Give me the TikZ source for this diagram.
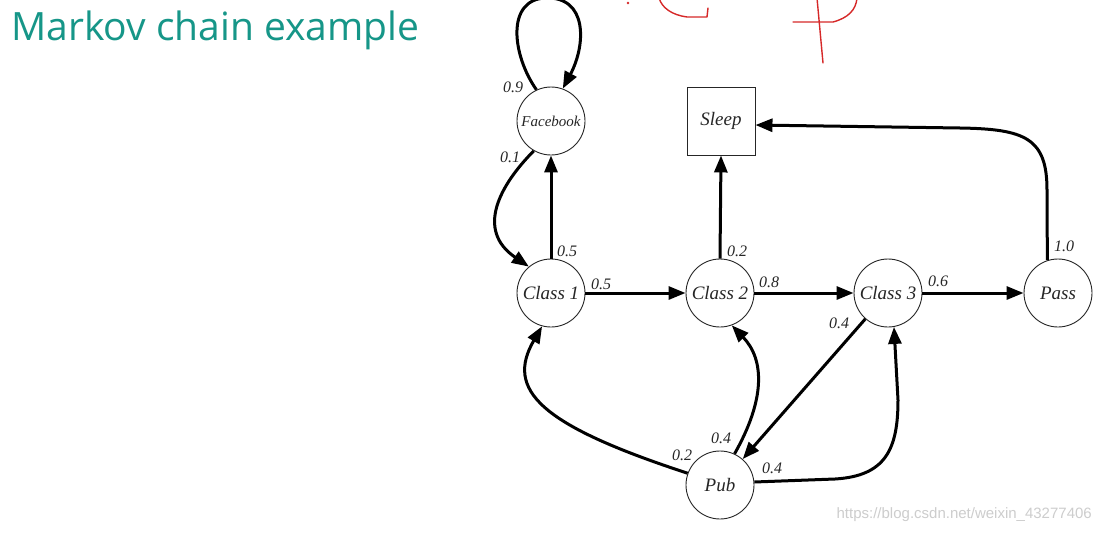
\documentclass[tikz,border=0pt]{standalone}
\usepackage{fontspec}
\setmainfont{Liberation Serif}
\newfontfamily\titlefont{Open Sans}
\newfontfamily\wmfont{Liberation Sans}
\usetikzlibrary{arrows.meta}
\definecolor{teal1}{RGB}{22,150,136}
\definecolor{scrib}{RGB}{214,40,40}
\definecolor{wmgray}{RGB}{205,205,205}
\begin{document}
\begin{tikzpicture}[x=1pt,y=-1pt,
 state/.style={circle,draw=black!85,line width=0.9pt,minimum size=68pt,inner sep=0pt,font=\fontsize{19}{21}\selectfont\itshape,text=black!85},
 sq/.style={rectangle,draw=black!85,line width=0.9pt,minimum size=68pt,inner sep=0pt,font=\fontsize{19}{21}\selectfont\itshape,text=black!85},
 edge/.style={line width=3pt,-{Triangle[length=17pt,width=13pt]}},
 prob/.style={font=\fontsize{16}{18}\selectfont\itshape,text=black!85,inner sep=0pt},
 scribble/.style={draw=scrib,line width=1.4pt,line cap=round,line join=round},
]
\useasboundingbox[fill=white] (0,0) rectangle (1101,533);

% title
\node[anchor=base west,inner sep=0pt,text=teal1,font=\titlefont\fontsize{39}{44}\selectfont] (title) at (11,40) {Markov chain example};

% states
\node[state,font=\fontsize{15}{17}\selectfont\itshape] (fb) at (551,121) {Facebook};
\node[sq] (sleep) at (721,121) {Sleep};
\node[state] (c1) at (551,293) {Class 1};
\node[state] (c2) at (720,293) {Class 2};
\node[state] (c3) at (888,293) {Class 3};
\node[state] (pass) at (1058,293) {Pass};
\node[state] (pub) at (720,485) {Pub};

% edges
\draw[edge] (fb.115) .. controls (512,55) and (506,0) .. (545,-2) .. controls (588,-4) and (586,45) .. (fb.70);
\draw[edge] (fb.240) .. controls (500,185) and (475,230) .. (c1.130);
\draw[edge] (c1.north) -- (fb.south);
\draw[edge] (c1.east) -- (c2.west);
\draw[edge] (c2.north) -- (sleep.south);
\draw[edge] (c2.east) -- (c3.west);
\draw[edge] (c3.east) -- (pass.west);
\draw[edge] (pass.108) -- (1047,190) .. controls (1047,138) and (1025,129) .. (960,128) -- ([yshift=-4pt]sleep.east);
\draw[edge] (c3) -- (pub);
\draw[edge] (pub.160) .. controls (540,425) and (505,390) .. (c1.255);
\draw[edge] (pub.65) .. controls (765,400) and (765,360) .. (c2.290);
\draw[edge] (pub.5) -- (835,479) .. controls (885,476) and (898,450) .. (898,400) -- (c3.280);

% probabilities
\node[prob] (p1) at (513,87) {0.9};
\node[prob] (p2) at (510,157) {0.1};
\node[prob] (p3) at (567,251) {0.5};
\node[prob] (p4) at (601,284) {0.5};
\node[prob] (p5) at (737,251) {0.2};
\node[prob] (p6) at (769,282) {0.8};
\node[prob] (p7) at (938,281) {0.6};
\node[prob] (p8) at (1064,246) {1.0};
\node[prob] (p9) at (839,323) {0.4};
\node[prob] (p10) at (682,455) {0.2};
\node[prob] (p11) at (721,438) {0.4};
\node[prob] (p12) at (772,468) {0.4};

% red handwriting
\fill[scrib] (628,3) circle (1.3pt);
\draw[scribble] (659,-2) .. controls (662,8) and (672,15) .. (687,17) -- (707,17) -- (708,8);
\draw[scribble] (817,-2) -- (823,63);
\draw[scribble] (793,22) -- (833,22) .. controls (848,18) and (856,10) .. (857,-2);

% watermark
\node[anchor=east,inner sep=0pt,text=wmgray,font=\wmfont\fontsize{15}{17}\selectfont] (wm) at (1092,515) {https://blog.csdn.net/weixin\_43277406};
\end{tikzpicture}
\end{document}
